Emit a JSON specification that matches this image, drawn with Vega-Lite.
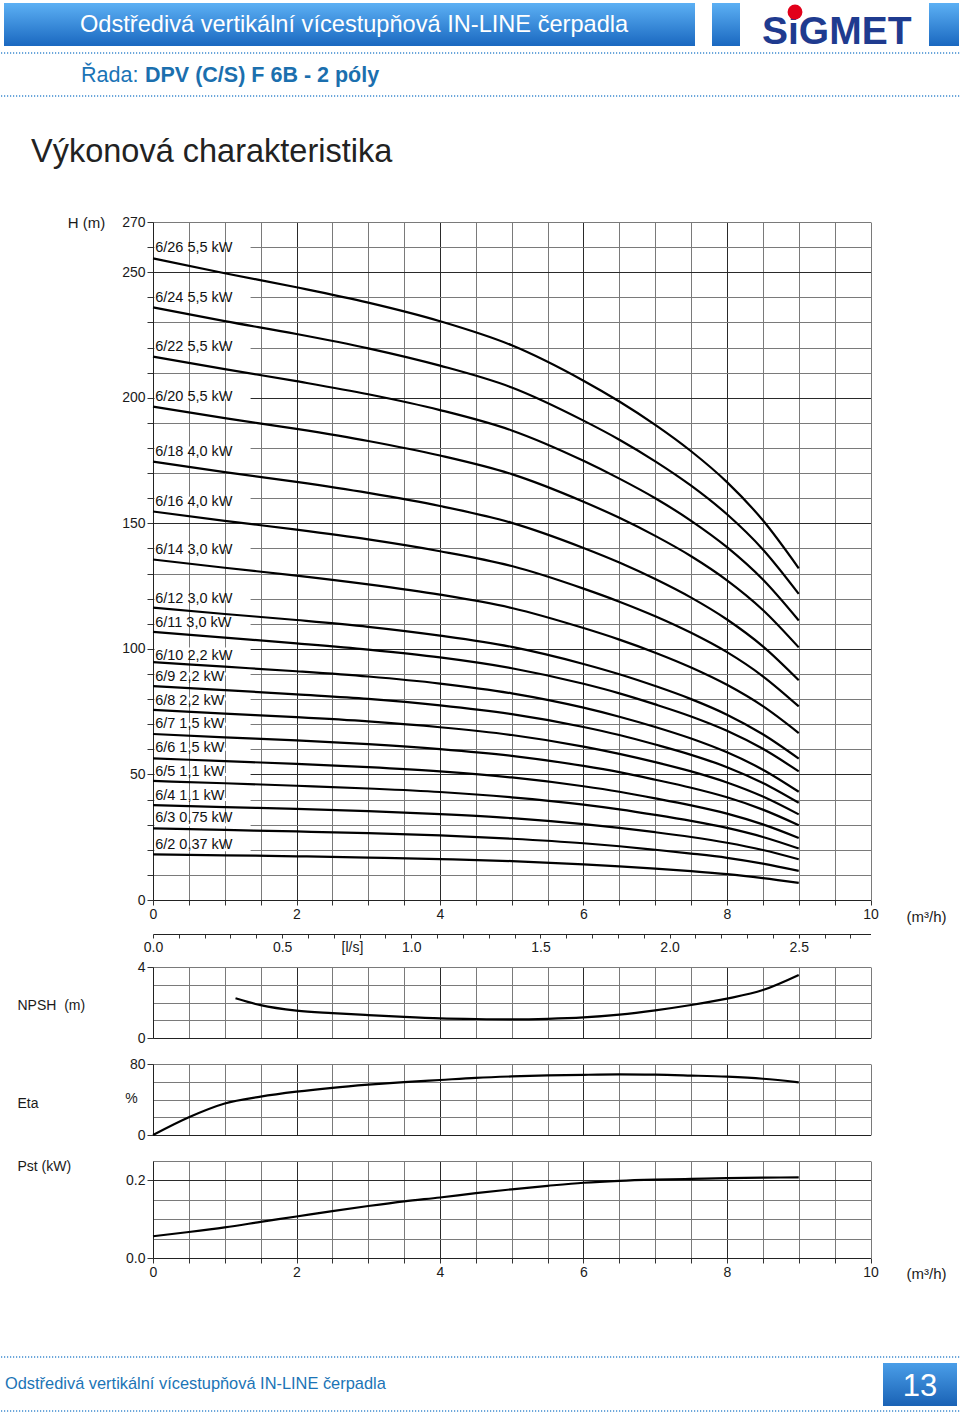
{
"$schema": "https://vega.github.io/schema/vega-lite/v6.json",
"padding": 0,
"background": "white",
"spacing": 26,
"bounds": "flush",
"config": {
  "view": {"stroke": null},
  "font": "Liberation Sans",
  "axis": {"labelFont": "Liberation Sans", "titleFont": "Liberation Sans", "labelColor": "#1a1a1a", "titleColor": "#1a1a1a", "labelFontSize": 14, "titleFontSize": 15, "titleFontWeight": "normal", "domainColor": "#222222", "tickColor": "#333333", "gridOpacity": 1, "labelFlush": false, "labelOverlap": false}
},
"datasets": {
  "heads": [
    {"s":"6/26","q":0,"h":255.5},{"s":"6/26","q":1,"h":249.6},{"s":"6/26","q":2,"h":244.0},{"s":"6/26","q":3,"h":237.9},{"s":"6/26","q":4,"h":230.5},{"s":"6/26","q":5,"h":220.9},{"s":"6/26","q":6,"h":206.8},{"s":"6/26","q":6.5,"h":198.5},{"s":"6/26","q":7,"h":189.2},{"s":"6/26","q":7.5,"h":178.7},{"s":"6/26","q":8,"h":166.4},{"s":"6/26","q":8.5,"h":151.2},{"s":"6/26","q":9,"h":132.1},
    {"s":"6/24","q":0,"h":236.0},{"s":"6/24","q":1,"h":230.5},{"s":"6/24","q":2,"h":225.4},{"s":"6/24","q":3,"h":219.7},{"s":"6/24","q":4,"h":212.8},{"s":"6/24","q":5,"h":204.1},{"s":"6/24","q":6,"h":190.9},{"s":"6/24","q":6.5,"h":183.3},{"s":"6/24","q":7,"h":174.7},{"s":"6/24","q":7.5,"h":165.0},{"s":"6/24","q":8,"h":153.6},{"s":"6/24","q":8.5,"h":139.6},{"s":"6/24","q":9,"h":121.9},
    {"s":"6/22","q":0,"h":216.4},{"s":"6/22","q":1,"h":211.4},{"s":"6/22","q":2,"h":206.6},{"s":"6/22","q":3,"h":201.4},{"s":"6/22","q":4,"h":195.1},{"s":"6/22","q":5,"h":187.0},{"s":"6/22","q":6,"h":174.9},{"s":"6/22","q":6.5,"h":167.8},{"s":"6/22","q":7,"h":160.0},{"s":"6/22","q":7.5,"h":151.0},{"s":"6/22","q":8,"h":140.5},{"s":"6/22","q":8.5,"h":127.6},{"s":"6/22","q":9,"h":111.3},
    {"s":"6/20","q":0,"h":196.5},{"s":"6/20","q":1,"h":191.9},{"s":"6/20","q":2,"h":187.6},{"s":"6/20","q":3,"h":182.8},{"s":"6/20","q":4,"h":177.0},{"s":"6/20","q":5,"h":169.6},{"s":"6/20","q":6,"h":158.6},{"s":"6/20","q":6.5,"h":152.2},{"s":"6/20","q":7,"h":145.0},{"s":"6/20","q":7.5,"h":136.9},{"s":"6/20","q":8,"h":127.3},{"s":"6/20","q":8.5,"h":115.5},{"s":"6/20","q":9,"h":100.6},
    {"s":"6/18","q":0,"h":174.6},{"s":"6/18","q":1,"h":170.4},{"s":"6/18","q":2,"h":166.5},{"s":"6/18","q":3,"h":162.1},{"s":"6/18","q":4,"h":156.9},{"s":"6/18","q":5,"h":150.2},{"s":"6/18","q":6,"h":140.2},{"s":"6/18","q":6.5,"h":134.4},{"s":"6/18","q":7,"h":127.8},{"s":"6/18","q":7.5,"h":120.4},{"s":"6/18","q":8,"h":111.7},{"s":"6/18","q":8.5,"h":101.0},{"s":"6/18","q":9,"h":87.5},
    {"s":"6/16","q":0,"h":154.7},{"s":"6/16","q":1,"h":151.0},{"s":"6/16","q":2,"h":147.5},{"s":"6/16","q":3,"h":143.6},{"s":"6/16","q":4,"h":138.9},{"s":"6/16","q":5,"h":133.0},{"s":"6/16","q":6,"h":124.0},{"s":"6/16","q":6.5,"h":118.8},{"s":"6/16","q":7,"h":113.0},{"s":"6/16","q":7.5,"h":106.4},{"s":"6/16","q":8,"h":98.7},{"s":"6/16","q":8.5,"h":89.1},{"s":"6/16","q":9,"h":77.1},
    {"s":"6/14","q":0,"h":135.6},{"s":"6/14","q":1,"h":132.3},{"s":"6/14","q":2,"h":129.2},{"s":"6/14","q":3,"h":125.7},{"s":"6/14","q":4,"h":121.6},{"s":"6/14","q":5,"h":116.3},{"s":"6/14","q":6,"h":108.3},{"s":"6/14","q":6.5,"h":103.7},{"s":"6/14","q":7,"h":98.5},{"s":"6/14","q":7.5,"h":92.6},{"s":"6/14","q":8,"h":85.7},{"s":"6/14","q":8.5,"h":77.2},{"s":"6/14","q":9,"h":66.5},
    {"s":"6/12","q":0,"h":116.4},{"s":"6/12","q":1,"h":113.9},{"s":"6/12","q":2,"h":111.5},{"s":"6/12","q":3,"h":108.8},{"s":"6/12","q":4,"h":105.3},{"s":"6/12","q":5,"h":100.8},{"s":"6/12","q":6,"h":94.0},{"s":"6/12","q":6.5,"h":89.9},{"s":"6/12","q":7,"h":85.2},{"s":"6/12","q":7.5,"h":80.0},{"s":"6/12","q":8,"h":73.8},{"s":"6/12","q":8.5,"h":66.0},{"s":"6/12","q":9,"h":56.3},
    {"s":"6/11","q":0,"h":106.8},{"s":"6/11","q":1,"h":104.5},{"s":"6/11","q":2,"h":102.2},{"s":"6/11","q":3,"h":99.7},{"s":"6/11","q":4,"h":96.6},{"s":"6/11","q":5,"h":92.3},{"s":"6/11","q":6,"h":86.1},{"s":"6/11","q":6.5,"h":82.3},{"s":"6/11","q":7,"h":77.9},{"s":"6/11","q":7.5,"h":73.1},{"s":"6/11","q":8,"h":67.4},{"s":"6/11","q":8.5,"h":60.2},{"s":"6/11","q":9,"h":51.2},
    {"s":"6/10","q":0,"h":94.7},{"s":"6/10","q":1,"h":92.9},{"s":"6/10","q":2,"h":91.1},{"s":"6/10","q":3,"h":89.0},{"s":"6/10","q":4,"h":86.2},{"s":"6/10","q":5,"h":82.3},{"s":"6/10","q":6,"h":76.6},{"s":"6/10","q":6.5,"h":73.0},{"s":"6/10","q":7,"h":68.9},{"s":"6/10","q":7.5,"h":64.3},{"s":"6/10","q":8,"h":58.8},{"s":"6/10","q":8.5,"h":51.9},{"s":"6/10","q":9,"h":43.1},
    {"s":"6/9","q":0,"h":85.2},{"s":"6/9","q":1,"h":83.6},{"s":"6/9","q":2,"h":81.9},{"s":"6/9","q":3,"h":80.1},{"s":"6/9","q":4,"h":77.5},{"s":"6/9","q":5,"h":74.0},{"s":"6/9","q":6,"h":68.9},{"s":"6/9","q":6.5,"h":65.7},{"s":"6/9","q":7,"h":61.9},{"s":"6/9","q":7.5,"h":57.8},{"s":"6/9","q":8,"h":52.9},{"s":"6/9","q":8.5,"h":46.6},{"s":"6/9","q":9,"h":38.7},
    {"s":"6/8","q":0,"h":75.7},{"s":"6/8","q":1,"h":74.2},{"s":"6/8","q":2,"h":72.8},{"s":"6/8","q":3,"h":71.1},{"s":"6/8","q":4,"h":68.8},{"s":"6/8","q":5,"h":65.7},{"s":"6/8","q":6,"h":61.1},{"s":"6/8","q":6.5,"h":58.2},{"s":"6/8","q":7,"h":54.9},{"s":"6/8","q":7.5,"h":51.2},{"s":"6/8","q":8,"h":46.8},{"s":"6/8","q":8.5,"h":41.2},{"s":"6/8","q":9,"h":34.1},
    {"s":"6/7","q":0,"h":66.1},{"s":"6/7","q":1,"h":64.8},{"s":"6/7","q":2,"h":63.6},{"s":"6/7","q":3,"h":62.1},{"s":"6/7","q":4,"h":60.1},{"s":"6/7","q":5,"h":57.4},{"s":"6/7","q":6,"h":53.4},{"s":"6/7","q":6.5,"h":50.9},{"s":"6/7","q":7,"h":47.9},{"s":"6/7","q":7.5,"h":44.7},{"s":"6/7","q":8,"h":40.9},{"s":"6/7","q":8.5,"h":36.0},{"s":"6/7","q":9,"h":29.8},
    {"s":"6/6","q":0,"h":56.4},{"s":"6/6","q":1,"h":55.3},{"s":"6/6","q":2,"h":54.2},{"s":"6/6","q":3,"h":52.9},{"s":"6/6","q":4,"h":51.2},{"s":"6/6","q":5,"h":48.8},{"s":"6/6","q":6,"h":45.3},{"s":"6/6","q":6.5,"h":43.1},{"s":"6/6","q":7,"h":40.5},{"s":"6/6","q":7.5,"h":37.7},{"s":"6/6","q":8,"h":34.4},{"s":"6/6","q":8.5,"h":30.1},{"s":"6/6","q":9,"h":24.7},
    {"s":"6/5","q":0,"h":47.4},{"s":"6/5","q":1,"h":46.5},{"s":"6/5","q":2,"h":45.5},{"s":"6/5","q":3,"h":44.4},{"s":"6/5","q":4,"h":43.0},{"s":"6/5","q":5,"h":40.9},{"s":"6/5","q":6,"h":38.0},{"s":"6/5","q":6.5,"h":36.1},{"s":"6/5","q":7,"h":33.9},{"s":"6/5","q":7.5,"h":31.5},{"s":"6/5","q":8,"h":28.7},{"s":"6/5","q":8.5,"h":25.1},{"s":"6/5","q":9,"h":20.5},
    {"s":"6/4","q":0,"h":37.8},{"s":"6/4","q":1,"h":37.0},{"s":"6/4","q":2,"h":36.3},{"s":"6/4","q":3,"h":35.4},{"s":"6/4","q":4,"h":34.2},{"s":"6/4","q":5,"h":32.6},{"s":"6/4","q":6,"h":30.2},{"s":"6/4","q":6.5,"h":28.7},{"s":"6/4","q":7,"h":27.0},{"s":"6/4","q":7.5,"h":25.1},{"s":"6/4","q":8,"h":22.8},{"s":"6/4","q":8.5,"h":19.9},{"s":"6/4","q":9,"h":16.2},
    {"s":"6/3","q":0,"h":28.5},{"s":"6/3","q":1,"h":27.9},{"s":"6/3","q":2,"h":27.3},{"s":"6/3","q":3,"h":26.6},{"s":"6/3","q":4,"h":25.7},{"s":"6/3","q":5,"h":24.4},{"s":"6/3","q":6,"h":22.6},{"s":"6/3","q":6.5,"h":21.4},{"s":"6/3","q":7,"h":20.0},{"s":"6/3","q":7.5,"h":18.5},{"s":"6/3","q":8,"h":16.8},{"s":"6/3","q":8.5,"h":14.5},{"s":"6/3","q":9,"h":11.6},
    {"s":"6/2","q":0,"h":18.2},{"s":"6/2","q":1,"h":17.8},{"s":"6/2","q":2,"h":17.4},{"s":"6/2","q":3,"h":16.9},{"s":"6/2","q":4,"h":16.3},{"s":"6/2","q":5,"h":15.5},{"s":"6/2","q":6,"h":14.2},{"s":"6/2","q":6.5,"h":13.4},{"s":"6/2","q":7,"h":12.5},{"s":"6/2","q":7.5,"h":11.5},{"s":"6/2","q":8,"h":10.3},{"s":"6/2","q":8.5,"h":8.7},{"s":"6/2","q":9,"h":6.8}
  ],
  "labels": [
    {"t":"6/26 5,5 kW","h":259.7,"g":260},{"t":"6/24 5,5 kW","h":239.7,"g":240},{"t":"6/22 5,5 kW","h":220.2,"g":220},{"t":"6/20 5,5 kW","h":200.3,"g":200},
    {"t":"6/18 4,0 kW","h":178.4,"g":180},{"t":"6/16 4,0 kW","h":158.5,"g":160},{"t":"6/14 3,0 kW","h":139.4,"g":140},{"t":"6/12 3,0 kW","h":120.0,"g":120},
    {"t":"6/11 3,0 kW","h":110.2,"g":110},{"t":"6/10 2,2 kW","h":97.3,"g":100},{"t":"6/9 2,2 kW","h":88.7,"g":90},{"t":"6/8 2,2 kW","h":79.4,"g":80},
    {"t":"6/7 1,5 kW","h":70.1,"g":70},{"t":"6/6 1,5 kW","h":60.4,"g":60},{"t":"6/5 1,1 kW","h":51.1,"g":50},{"t":"6/4 1,1 kW","h":41.5,"g":40},
    {"t":"6/3 0,75 kW","h":32.8,"g":30},{"t":"6/2 0,37 kW","h":21.9,"g":20}
  ],
  "npsh": [
    {"q":1.15,"v":2.24},{"q":1.5,"v":1.85},{"q":2,"v":1.54},{"q":2.5,"v":1.4},{"q":3,"v":1.29},{"q":3.5,"v":1.19},{"q":4,"v":1.11},{"q":4.5,"v":1.07},{"q":5,"v":1.05},{"q":5.5,"v":1.08},{"q":6,"v":1.16},{"q":6.5,"v":1.32},{"q":7,"v":1.56},{"q":7.5,"v":1.86},{"q":8,"v":2.22},{"q":8.5,"v":2.7},{"q":9,"v":3.55}
  ],
  "eta": [
    {"q":0,"v":0},{"q":0.5,"v":20},{"q":1,"v":35.5},{"q":1.5,"v":43.2},{"q":2,"v":48.8},{"q":2.5,"v":53.2},{"q":3,"v":56.7},{"q":3.5,"v":59.6},{"q":4,"v":62},{"q":4.5,"v":64.4},{"q":5,"v":66},{"q":5.5,"v":67.1},{"q":6,"v":67.8},{"q":6.5,"v":68.2},{"q":7,"v":68},{"q":7.5,"v":67},{"q":8,"v":65.7},{"q":8.5,"v":63.4},{"q":9,"v":59.4}
  ],
  "pst": [
    {"q":0,"v":0.056},{"q":0.5,"v":0.067},{"q":1,"v":0.079},{"q":1.5,"v":0.093},{"q":2,"v":0.107},{"q":2.5,"v":0.121},{"q":3,"v":0.134},{"q":3.5,"v":0.146},{"q":4,"v":0.156},{"q":4.5,"v":0.167},{"q":5,"v":0.177},{"q":5.5,"v":0.186},{"q":6,"v":0.194},{"q":6.5,"v":0.199},{"q":7,"v":0.202},{"q":7.5,"v":0.204},{"q":8,"v":0.206},{"q":8.5,"v":0.207},{"q":9,"v":0.208}
  ]
},
"vconcat": [
  {
    "width": 960, "height": 196,
    "data": {"values": [{"k": 1}]},
    "layer": [
      {"mark": {"type": "rect", "fill": {"gradient": "linear", "x1": 0, "y1": 0, "x2": 0, "y2": 1, "stops": [{"offset": 0, "color": "#5cb0f4"}, {"offset": 1, "color": "#1a68c0"}]}},
       "encoding": {"x": {"datum": 3, "type": "quantitative", "scale": {"domain": [0, 960], "nice": false, "zero": false}, "axis": null}, "x2": {"datum": 694},
                    "y": {"datum": 3, "type": "quantitative", "scale": {"domain": [0, 196], "reverse": true, "nice": false, "zero": false}, "axis": null}, "y2": {"datum": 46}}},
      {"mark": {"type": "rect", "fill": {"gradient": "linear", "x1": 0, "y1": 0, "x2": 0, "y2": 1, "stops": [{"offset": 0, "color": "#5cb0f4"}, {"offset": 1, "color": "#1a68c0"}]}},
       "encoding": {"x": {"datum": 711, "type": "quantitative", "scale": {"domain": [0, 960], "nice": false, "zero": false}, "axis": null}, "x2": {"datum": 739},
                    "y": {"datum": 3, "type": "quantitative", "scale": {"domain": [0, 196], "reverse": true, "nice": false, "zero": false}, "axis": null}, "y2": {"datum": 46}}},
      {"mark": {"type": "rect", "fill": {"gradient": "linear", "x1": 0, "y1": 0, "x2": 0, "y2": 1, "stops": [{"offset": 0, "color": "#5cb0f4"}, {"offset": 1, "color": "#1a68c0"}]}},
       "encoding": {"x": {"datum": 928, "type": "quantitative", "scale": {"domain": [0, 960], "nice": false, "zero": false}, "axis": null}, "x2": {"datum": 958},
                    "y": {"datum": 3, "type": "quantitative", "scale": {"domain": [0, 196], "reverse": true, "nice": false, "zero": false}, "axis": null}, "y2": {"datum": 46}}},
      {"mark": {"type": "text", "text": "Odstředivá vertikální vícestupňová IN-LINE čerpadla", "align": "left", "baseline": "alphabetic", "fontSize": 23.6, "color": "white", "font": "Liberation Sans"},
       "encoding": {"x": {"datum": 79, "type": "quantitative", "scale": {"domain": [0, 960], "nice": false, "zero": false}, "axis": null},
                    "y": {"datum": 31.5, "type": "quantitative", "scale": {"domain": [0, 196], "reverse": true, "nice": false, "zero": false}, "axis": null}}},
      {"mark": {"type": "text", "text": "SiGMET", "align": "left", "baseline": "alphabetic", "fontSize": 39, "fontWeight": "bold", "color": "#1f3b8f", "font": "Liberation Sans"},
       "encoding": {"x": {"datum": 761, "type": "quantitative", "scale": {"domain": [0, 960], "nice": false, "zero": false}, "axis": null},
                    "y": {"datum": 44, "type": "quantitative", "scale": {"domain": [0, 196], "reverse": true, "nice": false, "zero": false}, "axis": null}}},
      {"mark": {"type": "point", "filled": true, "color": "#e2001a", "size": 220, "opacity": 1},
       "encoding": {"x": {"datum": 794, "type": "quantitative", "scale": {"domain": [0, 960], "nice": false, "zero": false}, "axis": null},
                    "y": {"datum": 12, "type": "quantitative", "scale": {"domain": [0, 196], "reverse": true, "nice": false, "zero": false}, "axis": null}}},
      {"mark": {"type": "rule", "color": "#3d8ad0", "strokeDash": [1.2, 1.8], "strokeWidth": 1.3},
       "encoding": {"x": {"datum": 0, "type": "quantitative", "scale": {"domain": [0, 960], "nice": false, "zero": false}, "axis": null}, "x2": {"datum": 960},
                    "y": {"datum": 53, "type": "quantitative", "scale": {"domain": [0, 196], "reverse": true, "nice": false, "zero": false}, "axis": null}}},
      {"mark": {"type": "rule", "color": "#3d8ad0", "strokeDash": [1.2, 1.8], "strokeWidth": 1.3},
       "encoding": {"x": {"datum": 0, "type": "quantitative", "scale": {"domain": [0, 960], "nice": false, "zero": false}, "axis": null}, "x2": {"datum": 960},
                    "y": {"datum": 96, "type": "quantitative", "scale": {"domain": [0, 196], "reverse": true, "nice": false, "zero": false}, "axis": null}}},
      {"mark": {"type": "text", "text": "Řada:", "align": "left", "baseline": "alphabetic", "fontSize": 21.5, "color": "#1b74b6", "font": "Liberation Sans"},
       "encoding": {"x": {"datum": 80, "type": "quantitative", "scale": {"domain": [0, 960], "nice": false, "zero": false}, "axis": null},
                    "y": {"datum": 82, "type": "quantitative", "scale": {"domain": [0, 196], "reverse": true, "nice": false, "zero": false}, "axis": null}}},
      {"mark": {"type": "text", "text": "DPV (C/S) F 6B - 2 póly", "align": "left", "baseline": "alphabetic", "fontSize": 21.5, "fontWeight": "bold", "color": "#1b6fae", "font": "Liberation Sans"},
       "encoding": {"x": {"datum": 144, "type": "quantitative", "scale": {"domain": [0, 960], "nice": false, "zero": false}, "axis": null},
                    "y": {"datum": 82, "type": "quantitative", "scale": {"domain": [0, 196], "reverse": true, "nice": false, "zero": false}, "axis": null}}},
      {"mark": {"type": "text", "text": "Výkonová charakteristika", "align": "left", "baseline": "alphabetic", "fontSize": 32.5, "color": "#222222", "font": "Liberation Sans"},
       "encoding": {"x": {"datum": 30, "type": "quantitative", "scale": {"domain": [0, 960], "nice": false, "zero": false}, "axis": null},
                    "y": {"datum": 162, "type": "quantitative", "scale": {"domain": [0, 196], "reverse": true, "nice": false, "zero": false}, "axis": null}}}
    ]
  },
  {
    "width": 960, "height": 678,
    "layer": [
      {"data": {"name": "heads"},
       "mark": {"type": "line", "interpolate": "monotone", "color": "#000000", "strokeWidth": 2.2},
       "encoding": {
         "x": {"field": "q", "type": "quantitative", "scale": {"domain": [0, 10], "range": [152, 869.5], "nice": false, "zero": false},
               "axis": {"orient": "bottom", "values": [0,0.5,1,1.5,2,2.5,3,3.5,4,4.5,5,5.5,6,6.5,7,7.5,8,8.5,9,9.5,10],
                        "labelExpr": "datum.value % 2 === 0 ? format(datum.value, 'd') : ''", "labelOverlap": false,
                        "grid": true, "gridColor": {"condition": {"test": "datum.value % 2 === 0 && datum.value > 0 && datum.value < 10", "value": "#2a2a2a"}, "value": "#7a7a7a"},
                        "tickSize": 5, "labelPadding": 2, "title": "(m³/h)", "titleX": 925, "titleY": 21, "titleAlign": "center", "titleBaseline": "alphabetic"}},
         "y": {"field": "h", "type": "quantitative", "scale": {"domain": [0, 270], "nice": false, "zero": false},
               "axis": {"values": [0,10,20,30,40,50,60,70,80,90,100,110,120,130,140,150,160,170,180,190,200,210,220,230,240,250,260,270],
                        "labelExpr": "(datum.value % 50 === 0 || datum.value === 270) ? datum.label : ''", "labelOverlap": false,
                        "offset": -152, "grid": true,
                        "gridColor": {"condition": {"test": "datum.value % 50 === 0 && datum.value > 0", "value": "#2a2a2a"}, "value": "#7a7a7a"},
                        "tickSize": 6, "labelPadding": 2, "title": "H (m)", "titleAngle": 0, "titleX": -67, "titleY": 0, "titleAlign": "center", "titleBaseline": "middle"}},
         "detail": {"field": "s", "type": "nominal"}
       }},
      {"data": {"name": "labels"},
       "mark": {"type": "rule", "color": "white", "strokeWidth": 3},
       "encoding": {
         "x": {"datum": 0.02, "type": "quantitative", "scale": {"domain": [0, 10], "range": [152, 869.5], "nice": false, "zero": false},
               "axis": {"orient": "bottom", "values": [0,0.5,1,1.5,2,2.5,3,3.5,4,4.5,5,5.5,6,6.5,7,7.5,8,8.5,9,9.5,10],
                        "labelExpr": "datum.value % 2 === 0 ? format(datum.value, 'd') : ''", "labelOverlap": false,
                        "grid": true, "gridColor": {"condition": {"test": "datum.value % 2 === 0 && datum.value > 0 && datum.value < 10", "value": "#2a2a2a"}, "value": "#7a7a7a"},
                        "tickSize": 5, "labelPadding": 2, "title": "(m³/h)", "titleX": 925, "titleY": 21, "titleAlign": "center", "titleBaseline": "alphabetic"}},
         "x2": {"datum": 1.36},
         "y": {"field": "g", "type": "quantitative", "scale": {"domain": [0, 270], "nice": false, "zero": false},
               "axis": {"values": [0,10,20,30,40,50,60,70,80,90,100,110,120,130,140,150,160,170,180,190,200,210,220,230,240,250,260,270],
                        "labelExpr": "(datum.value % 50 === 0 || datum.value === 270) ? datum.label : ''", "labelOverlap": false,
                        "offset": -152, "grid": true,
                        "gridColor": {"condition": {"test": "datum.value % 50 === 0 && datum.value > 0", "value": "#2a2a2a"}, "value": "#7a7a7a"},
                        "tickSize": 6, "labelPadding": 2, "title": "H (m)", "titleAngle": 0, "titleX": -67, "titleY": 0, "titleAlign": "center", "titleBaseline": "middle"}}
       }},
      {"data": {"name": "labels"},
       "mark": {"type": "text", "align": "left", "baseline": "middle", "fontSize": 14.5, "color": "#111111", "font": "Liberation Sans"},
       "encoding": {
         "x": {"datum": 0.03, "type": "quantitative", "scale": {"domain": [0, 10], "range": [152, 869.5], "nice": false, "zero": false},
               "axis": {"orient": "bottom", "values": [0,0.5,1,1.5,2,2.5,3,3.5,4,4.5,5,5.5,6,6.5,7,7.5,8,8.5,9,9.5,10],
                        "labelExpr": "datum.value % 2 === 0 ? format(datum.value, 'd') : ''", "labelOverlap": false,
                        "grid": true, "gridColor": {"condition": {"test": "datum.value % 2 === 0 && datum.value > 0 && datum.value < 10", "value": "#2a2a2a"}, "value": "#7a7a7a"},
                        "tickSize": 5, "labelPadding": 2, "title": "(m³/h)", "titleX": 925, "titleY": 21, "titleAlign": "center", "titleBaseline": "alphabetic"}},
         "y": {"field": "h", "type": "quantitative", "scale": {"domain": [0, 270], "nice": false, "zero": false},
               "axis": {"values": [0,10,20,30,40,50,60,70,80,90,100,110,120,130,140,150,160,170,180,190,200,210,220,230,240,250,260,270],
                        "labelExpr": "(datum.value % 50 === 0 || datum.value === 270) ? datum.label : ''", "labelOverlap": false,
                        "offset": -152, "grid": true,
                        "gridColor": {"condition": {"test": "datum.value % 50 === 0 && datum.value > 0", "value": "#2a2a2a"}, "value": "#7a7a7a"},
                        "tickSize": 6, "labelPadding": 2, "title": "H (m)", "titleAngle": 0, "titleX": -67, "titleY": 0, "titleAlign": "center", "titleBaseline": "middle"}},
         "text": {"field": "t"}
       }}
    ]
  },
  {
    "width": 960, "height": 15,
    "data": {"values": [{"ls": 0}]},
    "mark": {"type": "point", "opacity": 0},
    "encoding": {
      "x": {"field": "ls", "type": "quantitative", "scale": {"domain": [0, 2.7778], "range": [152, 869.5], "nice": false, "zero": false},
            "axis": {"orient": "bottom", "offset": -7, "values": [0,0.1,0.2,0.3,0.4,0.5,0.6,0.7,0.8,0.9,1,1.1,1.2,1.3,1.4,1.5,1.6,1.7,1.8,1.9,2,2.1,2.2,2.3,2.4,2.5,2.6,2.7],
                     "labelExpr": "abs(datum.value * 2 - round(datum.value * 2)) < 0.001 ? format(datum.value, '.1f') : ''", "labelOverlap": false,
                     "grid": false, "tickSize": 4, "labelPadding": 2, "title": "[l/s]", "titleX": 351, "titleY": 13, "titleAlign": "center", "titleBaseline": "middle", "titleFontSize": 14}}
    }
  },
  {
    "width": 960, "height": 71,
    "data": {"name": "npsh"},
    "mark": {"type": "line", "interpolate": "monotone", "color": "#000000", "strokeWidth": 2.2},
    "encoding": {
      "x": {"field": "q", "type": "quantitative", "scale": {"domain": [0, 10], "range": [152, 869.5], "nice": false, "zero": false},
            "axis": {"orient": "bottom", "values": [0,0.5,1,1.5,2,2.5,3,3.5,4,4.5,5,5.5,6,6.5,7,7.5,8,8.5,9,9.5,10], "labels": false, "ticks": false, "grid": true,
                     "gridColor": {"condition": {"test": "datum.value % 2 === 0 && datum.value > 0 && datum.value < 10", "value": "#2a2a2a"}, "value": "#7a7a7a"}, "title": null}},
      "y": {"field": "v", "type": "quantitative", "scale": {"domain": [0, 4], "nice": false, "zero": false},
            "axis": {"values": [0,1,2,3,4], "labelExpr": "datum.value === 0 || datum.value === 4 ? datum.label : ''", "labelOverlap": false,
                     "tickOpacity": {"condition": {"test": "datum.value === 0 || datum.value === 4", "value": 1}, "value": 0},
                     "tickSize": 6, "labelPadding": 2, "offset": -152, "grid": true, "gridColor": "#7a7a7a",
                     "title": "NPSH\u00a0 (m)", "titleAngle": 0, "titleAlign": "left", "titleBaseline": "middle", "titleX": -136, "titleY": 38, "titleFontSize": 14}}
    }
  },
  {
    "width": 960, "height": 71,
    "layer": [
      {"data": {"name": "eta"},
       "mark": {"type": "line", "interpolate": "monotone", "color": "#000000", "strokeWidth": 2.2},
       "encoding": {
         "x": {"field": "q", "type": "quantitative", "scale": {"domain": [0, 10], "range": [152, 869.5], "nice": false, "zero": false},
               "axis": {"orient": "bottom", "values": [0,0.5,1,1.5,2,2.5,3,3.5,4,4.5,5,5.5,6,6.5,7,7.5,8,8.5,9,9.5,10], "labels": false, "ticks": false, "grid": true,
                        "gridColor": {"condition": {"test": "datum.value % 2 === 0 && datum.value > 0 && datum.value < 10", "value": "#2a2a2a"}, "value": "#7a7a7a"}, "title": null}},
         "y": {"field": "v", "type": "quantitative", "scale": {"domain": [0, 80], "nice": false, "zero": false},
               "axis": {"values": [0,20,40,60,80], "labelExpr": "datum.value === 0 || datum.value === 80 ? datum.label : ''", "labelOverlap": false,
                        "tickOpacity": {"condition": {"test": "datum.value === 0 || datum.value === 80", "value": 1}, "value": 0},
                        "tickSize": 6, "labelPadding": 2, "offset": -152, "grid": true, "gridColor": "#7a7a7a",
                        "title": "Eta", "titleAngle": 0, "titleAlign": "left", "titleBaseline": "middle", "titleX": -136, "titleY": 39, "titleFontSize": 14}}
       }},
      {"data": {"values": [{"u": "%"}]},
       "mark": {"type": "text", "align": "center", "baseline": "middle", "fontSize": 14, "color": "#1a1a1a", "font": "Liberation Sans"},
       "encoding": {
         "x": {"datum": -0.3, "type": "quantitative", "scale": {"domain": [0, 10], "range": [152, 869.5], "nice": false, "zero": false},
               "axis": {"orient": "bottom", "values": [0,0.5,1,1.5,2,2.5,3,3.5,4,4.5,5,5.5,6,6.5,7,7.5,8,8.5,9,9.5,10], "labels": false, "ticks": false, "grid": true,
                        "gridColor": {"condition": {"test": "datum.value % 2 === 0 && datum.value > 0 && datum.value < 10", "value": "#2a2a2a"}, "value": "#7a7a7a"}, "title": null}},
         "y": {"datum": 40.5, "type": "quantitative", "scale": {"domain": [0, 80], "nice": false, "zero": false},
               "axis": {"values": [0,20,40,60,80], "labelExpr": "datum.value === 0 || datum.value === 80 ? datum.label : ''", "labelOverlap": false,
                        "tickOpacity": {"condition": {"test": "datum.value === 0 || datum.value === 80", "value": 1}, "value": 0},
                        "tickSize": 6, "labelPadding": 2, "offset": -152, "grid": true, "gridColor": "#7a7a7a",
                        "title": "Eta", "titleAngle": 0, "titleAlign": "left", "titleBaseline": "middle", "titleX": -136, "titleY": 39, "titleFontSize": 14}},
         "text": {"field": "u"}
       }}
    ]
  },
  {
    "width": 960, "height": 97,
    "data": {"name": "pst"},
    "mark": {"type": "line", "interpolate": "monotone", "color": "#000000", "strokeWidth": 2.2},
    "encoding": {
      "x": {"field": "q", "type": "quantitative", "scale": {"domain": [0, 10], "range": [152, 869.5], "nice": false, "zero": false},
            "axis": {"orient": "bottom", "values": [0,0.5,1,1.5,2,2.5,3,3.5,4,4.5,5,5.5,6,6.5,7,7.5,8,8.5,9,9.5,10],
                     "labelExpr": "datum.value % 2 === 0 ? format(datum.value, 'd') : ''", "labelOverlap": false,
                     "grid": true, "gridColor": {"condition": {"test": "datum.value % 2 === 0 && datum.value > 0 && datum.value < 10", "value": "#2a2a2a"}, "value": "#7a7a7a"},
                     "tickSize": 5, "labelPadding": 2, "title": "(m³/h)", "titleX": 925, "titleY": 20, "titleAlign": "center", "titleBaseline": "alphabetic"}},
      "y": {"field": "v", "type": "quantitative", "scale": {"domain": [0, 0.25], "nice": false, "zero": false},
            "axis": {"values": [0,0.05,0.1,0.15,0.2,0.25], "labelExpr": "datum.value === 0 || abs(datum.value - 0.2) < 0.0001 ? format(datum.value, '.1f') : ''", "labelOverlap": false,
                     "tickOpacity": {"condition": {"test": "datum.value === 0 || abs(datum.value - 0.2) < 0.0001", "value": 1}, "value": 0},
                     "tickSize": 6, "labelPadding": 2, "offset": -152, "grid": true,
                     "gridColor": {"condition": {"test": "abs(datum.value - 0.2) < 0.0001", "value": "#2a2a2a"}, "value": "#7a7a7a"},
                     "title": "Pst (kW)", "titleAngle": 0, "titleAlign": "left", "titleBaseline": "middle", "titleX": -136, "titleY": 5, "titleFontSize": 14}}
    }
  },
  {
    "width": 960, "height": 131,
    "data": {"values": [{"k": 1}]},
    "layer": [
      {"mark": {"type": "rule", "color": "#3d8ad0", "strokeDash": [1.2, 1.8], "strokeWidth": 1.3},
       "encoding": {"x": {"datum": 0, "type": "quantitative", "scale": {"domain": [0, 960], "nice": false, "zero": false}, "axis": null}, "x2": {"datum": 960},
                    "y": {"datum": 1357, "type": "quantitative", "scale": {"domain": [1284, 1415], "reverse": true, "nice": false, "zero": false}, "axis": null}}},
      {"mark": {"type": "rule", "color": "#3d8ad0", "strokeDash": [1.2, 1.8], "strokeWidth": 1.3},
       "encoding": {"x": {"datum": 0, "type": "quantitative", "scale": {"domain": [0, 960], "nice": false, "zero": false}, "axis": null}, "x2": {"datum": 960},
                    "y": {"datum": 1411, "type": "quantitative", "scale": {"domain": [1284, 1415], "reverse": true, "nice": false, "zero": false}, "axis": null}}},
      {"mark": {"type": "text", "text": "Odstředivá vertikální vícestupňová IN-LINE čerpadla", "align": "left", "baseline": "alphabetic", "fontSize": 16.4, "color": "#1b74b6", "font": "Liberation Sans"},
       "encoding": {"x": {"datum": 4, "type": "quantitative", "scale": {"domain": [0, 960], "nice": false, "zero": false}, "axis": null},
                    "y": {"datum": 1389, "type": "quantitative", "scale": {"domain": [1284, 1415], "reverse": true, "nice": false, "zero": false}, "axis": null}}},
      {"mark": {"type": "rect", "fill": {"gradient": "linear", "x1": 0, "y1": 0, "x2": 0, "y2": 1, "stops": [{"offset": 0, "color": "#4a9ee8"}, {"offset": 1, "color": "#1a62b5"}]}},
       "encoding": {"x": {"datum": 882, "type": "quantitative", "scale": {"domain": [0, 960], "nice": false, "zero": false}, "axis": null}, "x2": {"datum": 956},
                    "y": {"datum": 1363, "type": "quantitative", "scale": {"domain": [1284, 1415], "reverse": true, "nice": false, "zero": false}, "axis": null}, "y2": {"datum": 1406}}},
      {"mark": {"type": "text", "text": "13", "align": "center", "baseline": "alphabetic", "fontSize": 31, "color": "white", "font": "Liberation Sans"},
       "encoding": {"x": {"datum": 919, "type": "quantitative", "scale": {"domain": [0, 960], "nice": false, "zero": false}, "axis": null},
                    "y": {"datum": 1396, "type": "quantitative", "scale": {"domain": [1284, 1415], "reverse": true, "nice": false, "zero": false}, "axis": null}}}
    ]
  }
]
}
